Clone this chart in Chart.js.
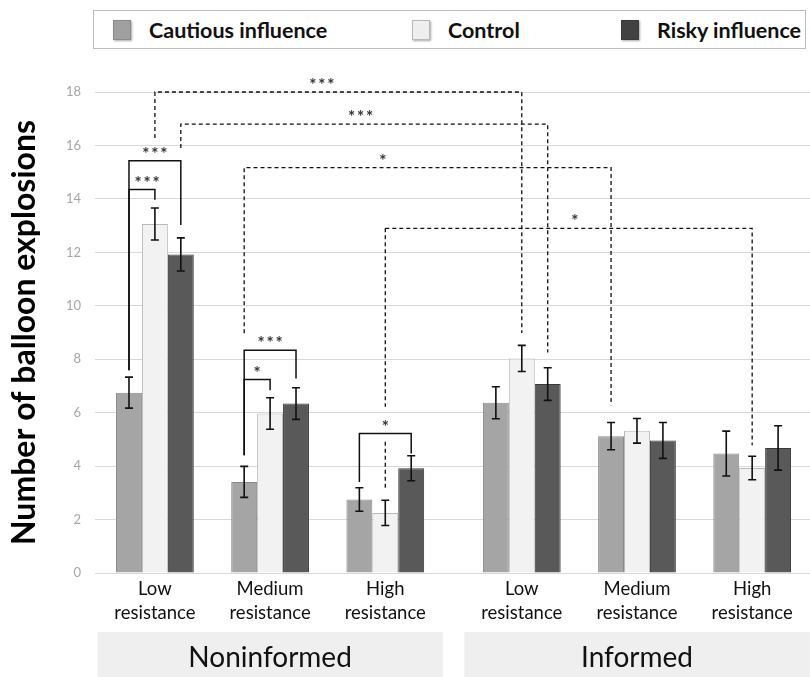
<!DOCTYPE html>
<html>
<head>
<meta charset="utf-8">
<script src="https://cdn.jsdelivr.net/npm/chart.js@4.4.0/dist/chart.umd.min.js"></script>
<style>
  html, body { margin: 0; padding: 0; background: #ffffff; }
  #wrap { position: relative; width: 810px; height: 677px; overflow: hidden; }
  #chart { position: absolute; left: 0; top: 0; }
  #legend { position: absolute; left: 93px; top: 10px; width: 713px; height: 39px;
            border: 1px solid #bdbdbd; box-sizing: border-box; background: #fff; }
  .item { position: absolute; top: 0; height: 37px; display: flex; align-items: center;
          font-family: Lato, "Liberation Sans", sans-serif; font-weight: bold; font-size: 21.5px; color: #111; }
  .sw { width: 16px; height: 18px; margin-right: 18px; box-shadow: 1px 1px 2px rgba(0,0,0,0.35); }
</style>
</head>
<body>
<div id="wrap">
  <canvas id="chart" width="810" height="677"></canvas>
  <div id="legend"></div>
</div>
<script>
// ---------- data ----------
const groupNames = ['Noninformed', 'Informed'];
const levelLabels = [['Low', 'resistance'], ['Medium', 'resistance'], ['High', 'resistance']];
const seriesNames = ['Cautious influence', 'Control', 'Risky influence'];
// order: Noninformed Low, Medium, High, Informed Low, Medium, High
const cautious = [6.75, 3.41, 2.75, 6.37, 5.12, 4.47];
const control  = [13.06, 5.97, 2.25, 8.03, 5.32, 3.93];
const risky    = [11.92, 6.34, 3.92, 7.07, 4.96, 4.68];
const cautiousErr = [0.58, 0.58, 0.44, 0.60, 0.51, 0.84];
const controlErr  = [0.60, 0.59, 0.47, 0.49, 0.46, 0.44];
const riskyErr    = [0.62, 0.59, 0.47, 0.61, 0.67, 0.83];
const yTickValues = [0, 2, 4, 6, 8, 10, 12, 14, 16, 18];
// significance brackets: a/b = [category, series]; y = bracket height; ends = where the legs stop
const brackets = [
  { a: [0, 0], b: [0, 1], y: 14.35, ends: [7.59, 13.97], label: '***', at: 0.70, dash: false },
  { a: [0, 0], b: [0, 2], y: 15.43, ends: [7.59, 13.02], label: '***', at: 0.50, dash: false },
  { a: [1, 0], b: [1, 1], y: 7.24,  ends: [4.41, 6.84],  label: '*',   at: 0.50, dash: false },
  { a: [1, 0], b: [1, 2], y: 8.34,  ends: [4.41, 7.28],  label: '***', at: 0.50, dash: false },
  { a: [2, 0], b: [2, 2], y: 5.22,  ends: [3.41, 4.47],  label: '*',   at: 0.50, dash: false },
  { a: [0, 1], b: [3, 1], y: 18.0,  ends: [16.28, 8.98], label: '***', at: 0.455, dash: true },
  { a: [0, 2], b: [3, 2], y: 16.8,  ends: [15.90, 8.25], label: '***', at: 0.49, dash: true },
  { a: [1, 0], b: [4, 0], y: 15.17, ends: [8.97, 6.28],  label: '*',   at: 0.378, dash: true },
  { a: [2, 1], b: [5, 1], y: 12.9,  ends: [3.16, 4.78],  gap: [6.22, 4.91], label: '*', at: 0.517, dash: true }
];

// ---------- layout / style ----------
const GROUP_GAP = 0.185;              // extra space between the two groups (in category units)
const catPos = cautious.map((_, i) => Math.floor(i / 3) * (3 + GROUP_GAP) + (i % 3));
const fills   = ['#a5a5a5', '#f2f2f2', '#595959'];
const borders = ['#8a8a8a', '#b8b8b8', '#3a3a3a'];
const swatches = ['#a0a0a0', '#eeeeee', '#424242'];
const seriesVals = [cautious, control, risky];
const seriesErrs = [cautiousErr, controlErr, riskyErr];
const FONT = 'Lato, "Liberation Sans", sans-serif';

// legend (HTML)
const legendX = [19, 318, 527];
const legend = document.getElementById('legend');
seriesNames.forEach((name, i) => {
  const it = document.createElement('div');
  it.className = 'item';
  it.style.left = legendX[i] + 'px';
  const sw = document.createElement('span');
  sw.className = 'sw';
  sw.style.background = swatches[i];
  sw.style.border = '1px solid ' + borders[i];
  it.appendChild(sw);
  it.appendChild(document.createTextNode(name));
  legend.appendChild(it);
});

const datasets = seriesVals.map((vals, s) => ({
  label: seriesNames[s],
  data: vals.map((v, i) => ({ x: catPos[i], y: v })),
  backgroundColor: fills[s],
  borderColor: borders[s],
  borderWidth: 1,
  categoryPercentage: 0.675,
  barPercentage: 1.0
}));

const overlay = {
  id: 'overlay',
  afterDatasetsDraw(chart) {
    const ctx = chart.ctx;
    const ys = chart.scales.y;
    const bx = (cat, s) => chart.getDatasetMeta(s).data[cat].x;
    // error bars
    ctx.save();
    ctx.strokeStyle = '#111';
    ctx.lineWidth = 1.6;
    seriesVals.forEach((vals, s) => {
      vals.forEach((v, i) => {
        const x = bx(i, s);
        const y1 = ys.getPixelForValue(v + seriesErrs[s][i]);
        const y2 = ys.getPixelForValue(v - seriesErrs[s][i]);
        ctx.beginPath();
        ctx.moveTo(x, y1); ctx.lineTo(x, y2);
        ctx.moveTo(x - 4, y1); ctx.lineTo(x + 4, y1);
        ctx.moveTo(x - 4, y2); ctx.lineTo(x + 4, y2);
        ctx.stroke();
      });
    });
    ctx.restore();
    // brackets
    brackets.forEach(b => {
      const x1 = bx(b.a[0], b.a[1]);
      const x2 = bx(b.b[0], b.b[1]);
      const y = ys.getPixelForValue(b.y);
      const e1 = ys.getPixelForValue(b.ends[0]);
      const e2 = ys.getPixelForValue(b.ends[1]);
      ctx.save();
      ctx.strokeStyle = '#111';
      ctx.lineWidth = b.dash ? 1.3 : 1.5;
      ctx.setLineDash(b.dash ? [4, 3] : []);
      ctx.beginPath();
      if (b.gap) {
        ctx.moveTo(x1, y); ctx.lineTo(x1, ys.getPixelForValue(b.gap[0]));
        ctx.moveTo(x1, ys.getPixelForValue(b.gap[1])); ctx.lineTo(x1, e1);
        ctx.moveTo(x1, y);
      } else {
        ctx.moveTo(x1, e1); ctx.lineTo(x1, y);
      }
      ctx.lineTo(x2, y); ctx.lineTo(x2, e2);
      ctx.stroke();
      ctx.restore();
      // label: asterisks spaced out
      ctx.save();
      ctx.fillStyle = '#333';
      ctx.font = 'bold 17px ' + FONT;
      ctx.textAlign = 'center';
      ctx.textBaseline = 'alphabetic';
      const cx = x1 + (x2 - x1) * b.at;
      const n = b.label.length, sp = 9;
      for (let k = 0; k < n; k++) {
        ctx.fillText(b.label[k], cx + (k - (n - 1) / 2) * sp, y - 1);
      }
      ctx.restore();
    });
  },
  afterDraw(chart) {
    const ctx = chart.ctx;
    const xs = chart.scales.x;
    const top = chart.chartArea.bottom + 59;
    groupNames.forEach((g, gi) => {
      const l = Math.max(chart.chartArea.left - 2, xs.getPixelForValue(catPos[gi * 3] - 0.5));
      const r = Math.min(chart.width, xs.getPixelForValue(catPos[gi * 3 + 2] + 0.5));
      ctx.save();
      ctx.fillStyle = '#efefef';
      ctx.fillRect(l, top, r - l, chart.height - top);
      ctx.fillStyle = '#111';
      ctx.font = '28px ' + FONT;
      ctx.textAlign = 'center';
      ctx.textBaseline = 'alphabetic';
      ctx.fillText(g, (l + r) / 2, top + 35);
      ctx.restore();
    });
  }
};

new Chart(document.getElementById('chart'), {
  type: 'bar',
  data: { datasets },
  options: {
    responsive: false,
    animation: false,
    devicePixelRatio: 1,
    layout: { padding: { top: 92, left: 5, right: 0, bottom: 0 } },
    plugins: { legend: { display: false }, tooltip: { enabled: false } },
    scales: {
      x: {
        type: 'linear',
        offset: false,
        min: -0.52,
        max: 5.687,
        afterBuildTicks: s => { s.ticks = catPos.map(v => ({ value: v })); },
        afterFit: s => { s.height = 104; },
        ticks: {
          autoSkip: false, maxRotation: 0, minRotation: 0, padding: 4,
          color: '#111', font: { family: FONT, size: 18.5, lineHeight: 1.3 },
          callback: (v, i) => levelLabels[i % 3]
        },
        grid: { display: false, drawTicks: false },
        border: { display: false }
      },
      y: {
        min: 0, max: 18,
        afterBuildTicks: s => { s.ticks = yTickValues.map(v => ({ value: v })); },
        afterFit: s => { s.width = 90; },
        ticks: { color: '#a6a6a6', font: { family: FONT, size: 13 }, padding: 14 },
        grid: { color: '#d9d9d9', lineWidth: 1, drawTicks: false },
        border: { display: false },
        title: { display: true, text: 'Number of balloon explosions', color: '#000',
                 font: { family: FONT, size: 32, weight: 'bold' }, padding: { top: 0, bottom: 0 } }
      }
    }
  },
  plugins: [overlay]
});
</script>
</body>
</html>
